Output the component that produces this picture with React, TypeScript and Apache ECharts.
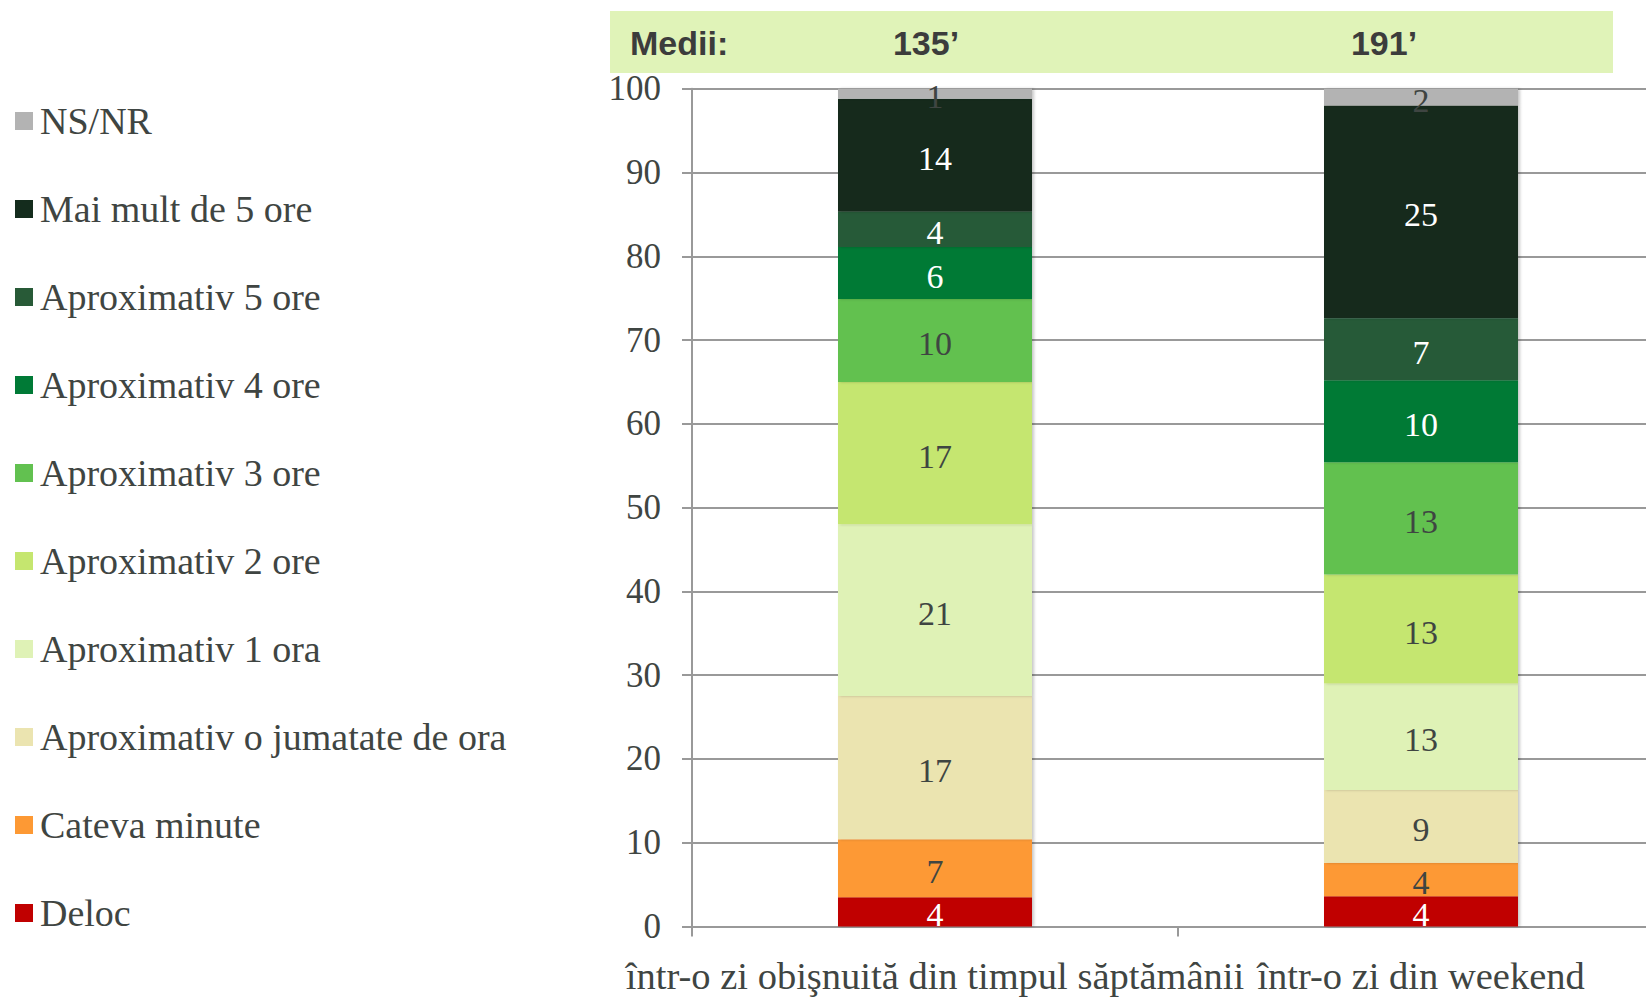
import React, { useEffect, useRef } from "react";
import * as echarts from "echarts";

const categories = ["într-o zi obişnuită din timpul săptămânii", "într-o zi din weekend"];
const seriesNames = [
  "Deloc",
  "Cateva minute",
  "Aproximativ o jumatate de ora",
  "Aproximativ 1 ora",
  "Aproximativ 2 ore",
  "Aproximativ 3 ore",
  "Aproximativ 4 ore",
  "Aproximativ 5 ore",
  "Mai mult de 5 ore",
  "NS/NR",
];
const weekdayValues = [3.5, 6.9, 17.1, 20.5, 17.0, 9.9, 6.2, 4.2, 13.5, 1.2];
const weekendValues = [3.6, 4.0, 8.7, 12.7, 13.0, 13.4, 9.8, 7.4, 25.4, 2.0];
const averages = ["135’", "191’"];
const averagesLabel = "Medii:";

const colors = [
  "#c00000",
  "#fd9934",
  "#ebe4b0",
  "#dff2b6",
  "#c5e66f",
  "#62c150",
  "#007a36",
  "#285a37",
  "#142c1d",
  "#b3b3b3",
];
const labelColors = [
  "#ffffff",
  "#3f4542",
  "#3f4542",
  "#3f4542",
  "#3f4542",
  "#3f4542",
  "#ffffff",
  "#ffffff",
  "#ffffff",
  "#3f4542",
];

const SERIF = "'Liberation Serif', 'Times New Roman', serif";
const SANS = "'Liberation Sans', Arial, sans-serif";
const TEXT = "#3f4542";
const GRID = "#999999";

export default function App() {
  const ref = useRef<HTMLDivElement>(null);

  useEffect(() => {
    if (!ref.current) return;
    const chart = echarts.init(ref.current, undefined, { renderer: "svg" });

    const series = seriesNames.map((name, i) => ({
      name,
      type: "bar",
      stack: "total",
      barWidth: 194,
      data: [weekdayValues[i], weekendValues[i]],
      itemStyle: {
        color: colors[i],
        shadowColor: "rgba(0,0,0,0.22)",
        shadowBlur: 3,
        shadowOffsetX: 2,
      },
      label: {
        show: true,
        position: "inside",
        offset: [0, 3],
        fontFamily: SERIF,
        fontSize: 34,
        color: labelColors[i],
        formatter: (p: any) => String(Math.round(p.value)),
      },
    }));

    chart.setOption({
      animation: false,
      backgroundColor: "#ffffff",
      legend: {
        orient: "vertical",
        left: 15,
        top: 101,
        padding: 0,
        itemWidth: 18,
        itemHeight: 18,
        itemGap: 48,
        icon: "rect",
        selectedMode: false,
        data: [...seriesNames].reverse(),
        textStyle: {
          fontFamily: SERIF,
          fontSize: 38,
          lineHeight: 40,
          color: TEXT,
          padding: [0, 0, 0, 2],
        },
      },
      grid: {
        left: 692,
        right: 0,
        top: 88.7,
        bottom: 70.5,
        containLabel: false,
      },
      xAxis: {
        type: "category",
        data: categories,
        axisLine: { show: true, lineStyle: { color: GRID, width: 2 } },
        axisTick: { show: true, length: 10, lineStyle: { color: GRID, width: 2 } },
        axisLabel: {
          interval: 0,
          margin: 30,
          fontFamily: SERIF,
          fontSize: 38.5,
          color: TEXT,
        },
      },
      yAxis: {
        type: "value",
        min: 0,
        max: 100,
        interval: 10,
        axisLine: { show: true, lineStyle: { color: GRID, width: 2 } },
        axisTick: { show: true, length: 10, lineStyle: { color: GRID, width: 2 } },
        splitLine: { show: true, lineStyle: { color: GRID, width: 2 } },
        axisLabel: {
          margin: 31,
          fontFamily: SERIF,
          fontSize: 35,
          color: TEXT,
        },
      },
      graphic: [
        {
          type: "rect",
          shape: { x: 610, y: 11, width: 1003, height: 62 },
          style: { fill: "#e0f3b8" },
          z: -1,
        },
        {
          type: "text",
          x: 630,
          y: 43,
          style: {
            text: averagesLabel,
            fontFamily: SANS,
            fontWeight: "bold",
            fontSize: 34,
            fill: "#3c3c3c",
            verticalAlign: "middle",
            align: "left",
          },
        },
        {
          type: "text",
          x: 926,
          y: 43,
          style: {
            text: averages[0],
            fontFamily: SANS,
            fontWeight: "bold",
            fontSize: 34,
            fill: "#3c3c3c",
            verticalAlign: "middle",
            align: "center",
          },
        },
        {
          type: "text",
          x: 1384,
          y: 43,
          style: {
            text: averages[1],
            fontFamily: SANS,
            fontWeight: "bold",
            fontSize: 34,
            fill: "#3c3c3c",
            verticalAlign: "middle",
            align: "center",
          },
        },
      ],
      series,
    });

    return () => chart.dispose();
  }, []);

  return (
    <div style={{ position: "fixed", left: 0, top: 0, width: 1646, height: 997, overflow: "hidden" }}>
      <div ref={ref} style={{ width: 1664, height: 997 }} />
    </div>
  );
}
